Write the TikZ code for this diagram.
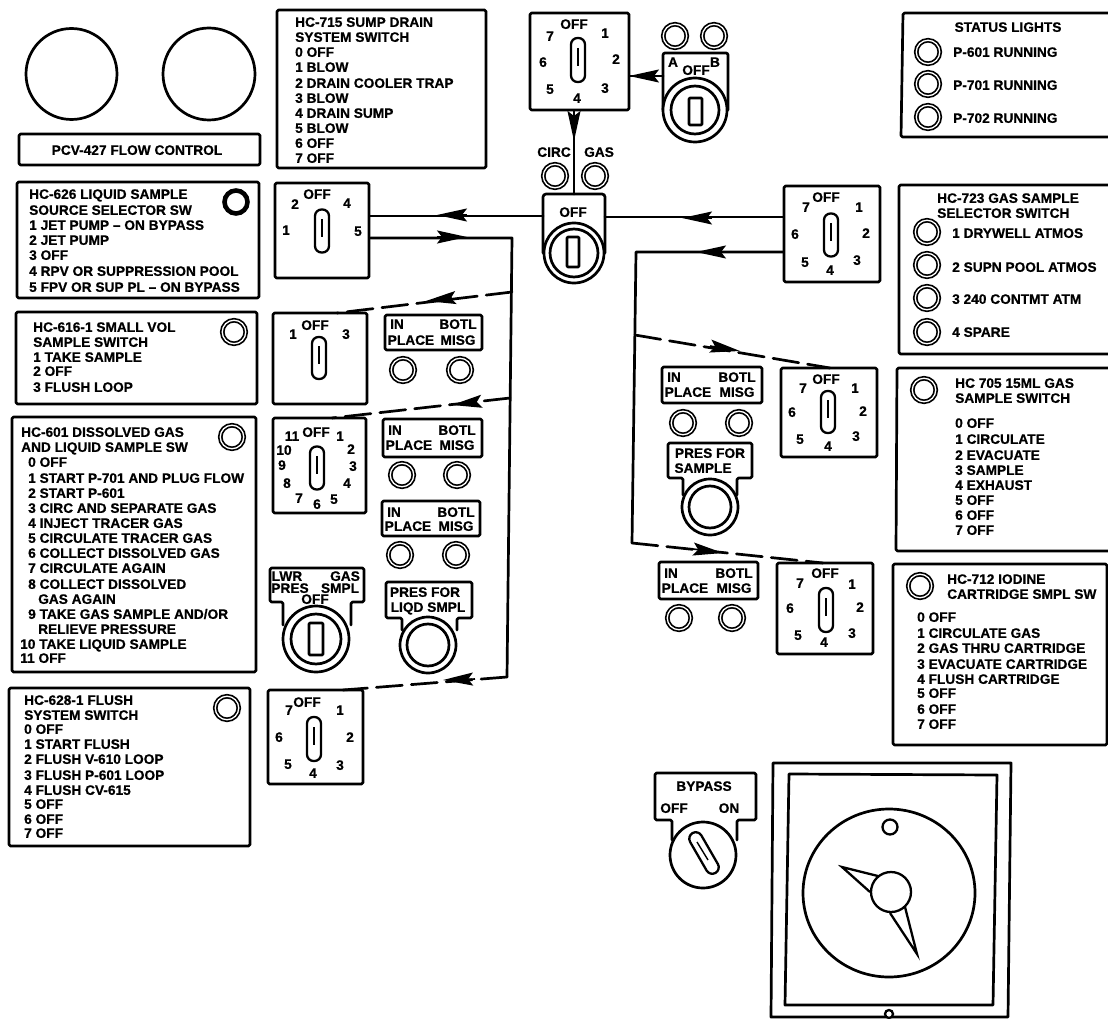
\documentclass[tikz,border=0pt]{standalone}
\usepackage{fontspec}
\setmainfont{Liberation Sans}[BoldFeatures={FakeBold=0.7}]
\usetikzlibrary{arrows.meta,calc}
\newcount\nc
\tikzset{
  ink/.style={line width=2.7pt,line join=round,line cap=round},
  panel/.style={ink,draw,rectangle,inner sep=0pt,rounded corners=1.5pt},
  lamp/.style={circle,draw,line width=1.7pt,double,double distance=1.3pt,minimum size=23.5pt,inner sep=0pt},
  lampheavy/.style={circle,draw,line width=4.6pt,minimum size=23pt,inner sep=0pt},
  lbl/.style={font=\bfseries\fontsize{13.7}{14}\selectfont,inner sep=0pt,text height=9.7pt,text depth=0pt},
  num/.style={lbl,anchor=center},
  row/.style={lbl,anchor=west},
  grip/.style={draw,line width=2.3pt,rectangle,rounded corners=6.5pt,minimum width=14pt,inner sep=0pt,fill=white},
  wire/.style={ink},
  brokenwire/.style={ink,dash pattern=on 26pt off 9pt},
  dart/.style={line width=1.6pt,-{Stealth[length=30pt,width=13pt,inset=5pt]}},
}
% text helpers
\def\L#1#2#3{\global\advance\nc by 1\relax\node[row] (r\the\nc) at (#1,#2) {#3};}
\def\T#1#2#3{\global\advance\nc by 1\relax\node[num] (c\the\nc) at (#1,#2) {#3};}
% name, left, top, right, bottom
\def\P#1#2#3#4#5{\draw[panel] (#2,#3) rectangle (#4,#5);
  \coordinate (#1) at ({(#2+#4)/2},{(#3+#5)/2});}
% switch box: name, left, top, right, bottom, handle x, handle y, handle h
\def\SW#1#2#3#4#5#6#7#8{\node[panel,minimum width={(#4)-(#2)},minimum height={(#5)-(#3)}] (#1) at ({(#2+#4)/2},{(#3+#5)/2}) {};
  \node[grip,minimum height=#8 pt] (#1g) at (#6,#7) {};
  \draw[line width=1.4pt] ($(#6,#7)+(0,-12)$) -- ($(#6,#7)+(0,6)$);}
% lamp
\def\LP#1#2{\global\advance\nc by 1\relax\node[lamp] (l\the\nc) at (#1,#2) {};}
\def\LH#1#2{\global\advance\nc by 1\relax\node[lampheavy] (l\the\nc) at (#1,#2) {};}
% in-place plate: left top right bottom, rowY1 rowY2
\def\IP#1#2#3#4#5#6#7#8#9{\P{ip#1}{#2}{#3}{#4}{#5}\T{#6+12}{#8}{IN}\T{#7+0}{#8}{BOTL}\T{#6+26}{#9}{PLACE}\T{#7}{#9}{MISG}}
% key: outer ring, inner ring
\def\KEY#1#2#3#4#5{\node[circle,draw,ink,fill=white,minimum size=#4*2 pt,inner sep=0pt] (#1) at (#2,#3) {};
  \node[circle,draw,ink,minimum size=#5*2 pt,inner sep=0pt] (#1i) at (#2,#3) {};}
\begin{document}
\begin{tikzpicture}[x=1pt,y=-1pt]
\useasboundingbox (0,0) rectangle (1108,1019);

% dials
\node[circle,draw,ink,minimum size=91pt,inner sep=0pt] (dialA) at (71.5,74) {};
\node[circle,draw,ink,minimum size=92pt,inner sep=0pt] (dialB) at (209,74) {};

% PCV
\P{pcv}{19}{134}{260}{165}
\T{137}{150}{PCV-427 FLOW CONTROL}

% HC-715
\P{p715}{277}{10}{486}{168}
\L{295}{22}{HC-715 SUMP DRAIN}
\L{295}{37}{SYSTEM SWITCH}
\L{295}{52}{0 OFF}
\L{295}{67}{1 BLOW}
\L{295}{83}{2 DRAIN COOLER TRAP}
\L{295}{98}{3 BLOW}
\L{295}{113}{4 DRAIN SUMP}
\L{295}{128}{5 BLOW}
\L{295}{143}{6 OFF}
\L{295}{158}{7 OFF}

% HC-626
\P{p626}{17}{182}{259}{298}
\L{29}{194}{HC-626 LIQUID SAMPLE}
\L{29}{210}{SOURCE SELECTOR SW}
\L{29}{225}{1 JET PUMP – ON BYPASS}
\L{29}{240}{2 JET PUMP}
\L{29}{255}{3 OFF}
\L{29}{271}{4 RPV OR SUPPRESSION POOL}
\L{29}{287}{5 FPV OR SUP PL – ON BYPASS}
\LH{236}{202}
\SW{sa}{275}{183}{369}{278}{322}{231}{43}
\T{317}{194}{OFF}\T{295}{204}{2}\T{347}{203}{4}\T{286}{230}{1}\T{358}{231}{5}

% HC-616-1
\P{p616}{16}{312}{257}{404}
\L{33}{327}{HC-616-1 SMALL VOL}
\L{33}{342}{SAMPLE SWITCH}
\L{33}{357}{1 TAKE SAMPLE}
\L{33}{371}{2 OFF}
\L{33}{387}{3 FLUSH LOOP}
\LP{234}{332}
\SW{sb}{273}{313}{367}{404}{319}{358}{42}
\T{315}{325}{OFF}\T{293}{334}{1}\T{346}{334}{3}
\IP{a}{385}{315}{482}{350}{385}{458}{324}{340}
\LP{403}{370}\LP{460}{370}

% HC-601
\P{p601}{12}{417}{256}{672}
\L{21}{432}{HC-601 DISSOLVED GAS}
\L{21}{447}{AND LIQUID SAMPLE SW}
\L{28}{462}{0 OFF}
\L{28}{478}{1 START P-701 AND PLUG FLOW}
\L{28}{493}{2 START P-601}
\L{28}{508}{3 CIRC AND SEPARATE GAS}
\L{28}{523}{4 INJECT TRACER GAS}
\L{28}{538}{5 CIRCULATE TRACER GAS}
\L{28}{553}{6 COLLECT DISSOLVED GAS}
\L{28}{568}{7 CIRCULATE AGAIN}
\L{28}{584}{8 COLLECT DISSOLVED}
\L{38}{599}{GAS AGAIN}
\L{28}{614}{9 TAKE GAS SAMPLE AND/OR}
\L{38}{629}{RELIEVE PRESSURE}
\L{20}{644}{10 TAKE LIQUID SAMPLE}
\L{20}{658}{11 OFF}
\LP{232}{437}
\SW{sc}{273}{418}{366}{513}{317}{468}{43}
\T{316}{432}{OFF}\T{292}{436}{11}\T{340}{436}{1}\T{284}{450}{10}\T{351}{449}{2}\T{282}{465}{9}\T{353}{466}{3}\T{287}{483}{8}\T{347}{483}{4}\T{299}{498}{7}\T{317}{504}{6}\T{334}{499}{5}
\IP{b}{383}{419}{482}{457}{383}{457}{430}{445}
\LP{402}{475}\LP{457}{475}
\IP{c}{382}{501}{480}{536}{382}{456}{512}{526}
\LP{400}{555}\LP{456}{555}

% LWR PRES key
\draw[ink,rounded corners=1.5pt] (283,625) -- (283,602) -- (270,602) -- (270,568) -- (364,568) -- (364,602) -- (351,602) -- (351,625);
\KEY{kc}{316}{639}{33}{25}
\draw[ink,rounded corners=1pt] (309,623) rectangle (323,655);
\T{287}{576}{LWR}\T{345}{576}{GAS}\T{290}{588}{PRES}\T{340}{588}{SMPL}\T{315}{599}{OFF}

% PRES FOR LIQD SMPL
\draw[ink,rounded corners=1.5pt] (402,630) -- (402,618) -- (386,618) -- (386,582) -- (472,582) -- (472,618) -- (457,618) -- (457,630);
\KEY{kd}{428}{645}{28}{21}
\T{425}{592}{PRES FOR}\T{428}{607}{LIQD SMPL}

% HC-628-1
\P{p628}{9}{688}{250}{846}
\L{24}{700}{HC-628-1 FLUSH}
\L{24}{715}{SYSTEM SWITCH}
\L{24}{729}{0 OFF}
\L{24}{744}{1 START FLUSH}
\L{24}{759}{2 FLUSH V-610 LOOP}
\L{24}{775}{3 FLUSH P-601 LOOP}
\L{24}{790}{4 FLUSH CV-615}
\L{24}{804}{5 OFF}
\L{24}{819}{6 OFF}
\L{24}{833}{7 OFF}
\LP{227}{708}
\SW{sd}{268}{690}{363}{784}{314}{739}{44}
\T{307}{702}{OFF}\T{289}{710}{7}\T{340}{710}{1}\T{279}{737}{6}\T{350}{737}{2}\T{288}{764}{5}\T{340}{765}{3}\T{313}{773}{4}

% top centre selector
\SW{se}{530}{13}{629}{110}{578}{60}{44}
\T{574}{24}{OFF}\T{550}{36}{7}\T{605}{33}{1}\T{543}{62}{6}\T{616}{59}{2}\T{550}{89}{5}\T{605}{88}{3}\T{577}{98}{4}

% A/B key
\LP{675}{36}\LP{714}{36}
\draw[ink,rounded corners=2pt] (663,110) -- (663,53) -- (728,53) -- (728,110);
\KEY{kab}{695}{110}{32}{24}
\draw[ink,rounded corners=1pt] (689,98) rectangle (702,125);
\T{673}{62}{A}\T{696}{70}{OFF}\T{715}{62}{B}
\coordinate (kabW) at (663,76);

% OFF key with CIRC / GAS
\T{554}{152}{CIRC}\T{599}{152}{GAS}
\LP{555}{176}\LP{595}{176}
\draw[ink,rounded corners=3pt] (543,253) -- (543,194) -- (605,194) -- (605,253);
\KEY{kf}{574}{253}{30}{24}
\draw[ink,rounded corners=1pt] (567,237) rectangle (579,267);
\T{573}{212}{OFF}
\coordinate (kfN) at (574,194);
\coordinate (kfW) at (543,216);
\coordinate (kfE) at (605,217);

% HC-723 selector
\SW{sf}{784}{186}{880}{282}{831}{235}{43}
\T{826}{197}{OFF}\T{806}{207}{7}\T{859}{207}{1}\T{795}{234}{6}\T{866}{233}{2}\T{805}{262}{5}\T{857}{260}{3}\T{830}{270}{4}

% status lights (cut by the right edge)
\draw[ink,rounded corners=1.5pt] (1110,13) -- (903,13) -- (901,137) -- (1110,137);
\T{1008}{27}{STATUS LIGHTS}
\LP{928}{52}\LP{928}{84}\LP{928}{117}
\L{953}{52}{P-601 RUNNING}
\L{953}{85}{P-701 RUNNING}
\L{953}{118}{P-702 RUNNING}

% HC-723
\draw[ink,rounded corners=1.5pt] (1110,185) -- (899,185) -- (899,354) -- (1110,354);
\L{937}{198}{HC-723 GAS SAMPLE}
\L{937}{213}{SELECTOR SWITCH}
\LP{927}{232}\LP{927}{265}\LP{927}{298}\LP{927}{332}
\L{952}{233}{1 DRYWELL ATMOS}
\L{952}{267}{2 SUPN POOL ATMOS}
\L{952}{299}{3 240 CONTMT ATM}
\L{952}{332}{4 SPARE}

% HC-705
\draw[ink,rounded corners=1.5pt] (1110,368) -- (897,368) -- (896,551) -- (1110,551);
\LP{924}{390}
\L{955}{383}{HC 705 15ML GAS}
\L{955}{398}{SAMPLE SWITCH}
\L{955}{423}{0 OFF}
\L{955}{439}{1 CIRCULATE}
\L{955}{455}{2 EVACUATE}
\L{955}{470}{3 SAMPLE}
\L{955}{485}{4 EXHAUST}
\L{955}{500}{5 OFF}
\L{955}{515}{6 OFF}
\L{955}{530}{7 OFF}
\SW{sg}{781}{368}{877}{457}{828}{412}{42}
\T{826}{379}{OFF}\T{803}{388}{7}\T{855}{388}{1}\T{792}{412}{6}\T{863}{411}{2}\T{800}{439}{5}\T{856}{436}{3}\T{828}{446}{4}
\IP{d}{662}{367}{762}{403}{662}{737}{377}{392}
\LP{683}{423}\LP{739}{423}

% PRES FOR SAMPLE
\draw[ink,rounded corners=1.5pt] (683,495) -- (683,478) -- (668,478) -- (668,443) -- (752,443) -- (752,478) -- (737,478) -- (737,495);
\KEY{kg}{710}{507}{28}{21}
\T{710}{453}{PRES FOR}\T{703}{468}{SAMPLE}

% HC-712
\P{p712}{893}{564}{1107}{745}
\LP{920}{586}
\L{947}{579}{HC-712 IODINE}
\L{947}{594}{CARTRIDGE SMPL SW}
\L{917}{617}{0 OFF}
\L{917}{633}{1 CIRCULATE GAS}
\L{917}{648}{2 GAS THRU CARTRIDGE}
\L{917}{664}{3 EVACUATE CARTRIDGE}
\L{917}{679}{4 FLUSH CARTRIDGE}
\L{917}{693}{5 OFF}
\L{917}{709}{6 OFF}
\L{917}{724}{7 OFF}
\SW{sh}{777}{563}{873}{654}{826}{610}{44}
\T{825}{573}{OFF}\T{800}{583}{7}\T{852}{584}{1}\T{790}{608}{6}\T{860}{607}{2}\T{798}{635}{5}\T{852}{633}{3}\T{824}{642}{4}
\IP{e}{659}{562}{758}{599}{659}{734}{573}{588}
\LP{679}{618}\LP{732}{618}

% BYPASS
\draw[ink,rounded corners=1.5pt] (672,840) -- (672,820) -- (655,820) -- (655,773) -- (756,773) -- (756,820) -- (737,820) -- (737,840);
\node[circle,draw,ink,fill=white,minimum size=66pt,inner sep=0pt] (kby) at (703,855) {};
\node[grip,rotate=30,minimum height=46pt,minimum width=13pt] (kbyg) at (704,853) {};
\draw[line width=1.4pt] (697,842) -- (708,860);
\T{704}{786}{BYPASS}\T{674}{808}{OFF}\T{729}{808}{ON}

% large meter
\draw[ink] (773,763) -- (1011,763) -- (1008,1017) -- (771,1017) -- cycle;
\draw[ink] (789,774) -- (997,775) -- (993,1005) -- (785,1005) -- cycle;
\draw[ink] (889,893) ellipse [x radius=86,y radius=84];
\draw[line width=2.3pt] (890,827) circle [radius=7.5];
\draw[line width=2.3pt,line join=miter] (878,876) -- (842,867) -- (870,892);
\draw[line width=2.3pt,line join=miter] (905,907) -- (917,954) -- (890,913);
\node[circle,draw,line width=2.3pt,fill=white,minimum size=40pt,inner sep=0pt] (hub) at (891,892) {};
\node[circle,draw,line width=2.3pt,fill=white,minimum size=8pt,inner sep=0pt] (foot) at (889,1014) {};

% connectors
\coordinate (jA) at (512,238);
\coordinate (jB) at (507,677);
\coordinate (jC) at (512,292);
\coordinate (jD) at (510,398);
\coordinate (jE) at (636,252);
\coordinate (jF) at (632,543);
\coordinate (jG) at (635,335);
\coordinate (tb) at (337,313);
\coordinate (tc) at (332,418);
\coordinate (td) at (343,690);
\coordinate (tg) at (830,368);
\coordinate (th) at (823,563);

\draw[wire] (kabW) -- (se.east |- kabW);
\draw[dart] (662,76) -- (629,76);
\draw[wire] (se.south -| kfN) -- (kfN);
\draw[dart] (574,110) -- (574,141);
\draw[wire] (sf.west |- kfE) -- (kfE);
\draw[dart] (712,218) -- (682,218);
\draw[wire] (kfW) -- (sa.east |- kfW);
\draw[dart] (467,215) -- (437,215);
\draw[wire] (sa.east |- jA) -- (jA) -- (jB);
\draw[dart] (437,237) -- (467,237);
\draw[brokenwire] (jC) -- (tb);
\draw[dart] (452,298) -- (426,301);
\draw[brokenwire] (jD) -- (tc);
\draw[dart] (476,402) -- (452,405);
\draw[brokenwire] (jB) -- (td);
\draw[dart] (475,679) -- (443,680);
\draw[wire] (sf.west |- jE) -- (jE) -- (jF);
\draw[dart] (726,252) -- (696,252);
\draw[brokenwire] (jG) -- (tg);
\draw[dart] (710,346) -- (740,351);
\draw[brokenwire] (jF) -- (th);
\draw[dart] (693,549) -- (723,553);
\end{tikzpicture}
\end{document}
